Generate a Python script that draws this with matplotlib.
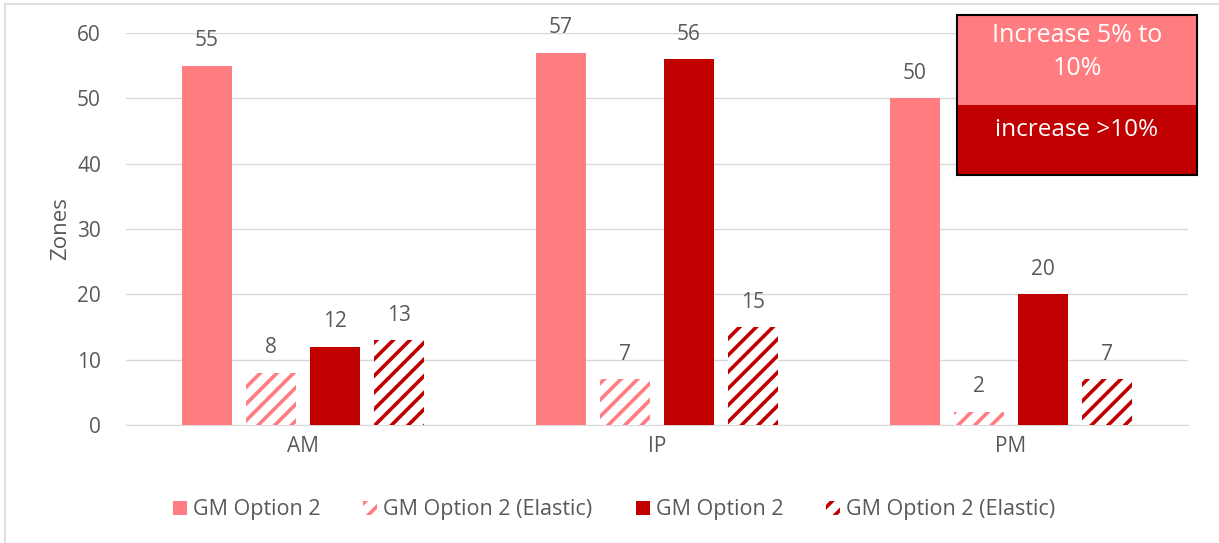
import matplotlib
matplotlib.use("Agg")
import matplotlib.pyplot as plt
from matplotlib.patches import Rectangle
from matplotlib.lines import Line2D
import numpy as np

periods = ["AM", "IP", "PM"]
series_names = ["GM Option 2", "GM Option 2 (Elastic)", "GM Option 2", "GM Option 2 (Elastic)"]
gm_5_10 = [55, 57, 50]
gm_5_10_elastic = [8, 7, 2]
gm_over_10 = [12, 56, 20]
gm_over_10_elastic = [13, 15, 7]
box_labels = ["Increase 5% to\n10%", "increase >10%"]

LIGHT = "#FF7C80"
DARK = "#C00000"
TEXT = "#595959"
GRID = "#D9D9D9"

plt.rcParams["font.family"] = ["Open Sans", "DejaVu Sans"]
plt.rcParams["hatch.linewidth"] = 2.6

W, H = 1219, 543
fig = plt.figure(figsize=(W / 100, H / 100), dpi=100)

def px(x0, y0, x1, y1):
    # left/bottom/width/height in figure fraction from pixel box (top-left origin)
    return [x0 / W, 1 - y1 / H, (x1 - x0) / W, (y1 - y0) / H]

ax = fig.add_axes(px(126, 33, 1188, 425))

series = [gm_5_10, gm_5_10_elastic, gm_over_10, gm_over_10_elastic]
colors = [LIGHT, LIGHT, DARK, DARK]
hatched = [False, True, False, True]
x = np.arange(len(periods))
step = 0.181
width = 0.141
offsets = (np.arange(4) - 1.5) * step

handles = []
for vals, col, hat, off, name in zip(series, colors, hatched, offsets, series_names):
    if hat:
        bars = ax.bar(x + off, vals, width, facecolor="white", edgecolor=col,
                      hatch="//", linewidth=0, zorder=3, label=name)
    else:
        bars = ax.bar(x + off, vals, width, color=col, linewidth=0, zorder=3, label=name)
    handles.append(bars)
    for b, v in zip(bars, vals):
        ax.annotate(f"{v}", (b.get_x() + b.get_width() / 2, v), xytext=(0, 18),
                    textcoords="offset points", ha="center", va="center",
                    fontsize=15, color=TEXT)

ax.set_xlim(-0.5, 2.5)
ax.set_ylim(0, 60)
ax.set_yticks(range(0, 61, 10))
ax.set_xticks(x)
ax.set_xticklabels(periods)
ax.tick_params(length=0, labelsize=15, labelcolor=TEXT)
ax.tick_params(axis="y", pad=18)
ax.tick_params(axis="x", pad=8)
ax.grid(axis="y", color=GRID, linewidth=1, zorder=0)
for s in ["top", "right", "left"]:
    ax.spines[s].set_visible(False)
ax.spines["bottom"].set_color(GRID)
ax.set_ylabel("Zones", fontsize=16, color=TEXT, labelpad=4)

leg = fig.legend(handles=handles, labels=series_names, loc="center",
                 bbox_to_anchor=(614 / W, 1 - 510 / H), ncol=4, frameon=False,
                 fontsize=15.5, labelcolor=TEXT, handlelength=0.65, handleheight=0.65,
                 handletextpad=0.28, columnspacing=2.0)

# legend key box in the upper right
fig.add_artist(Rectangle((957 / W, 1 - 105 / H), 240 / W, 90 / H, transform=fig.transFigure,
                         facecolor=LIGHT, edgecolor="none", zorder=5))
fig.add_artist(Rectangle((957 / W, 1 - 175 / H), 240 / W, 70 / H, transform=fig.transFigure,
                         facecolor=DARK, edgecolor="none", zorder=5))
fig.add_artist(Rectangle((957 / W, 1 - 175 / H), 240 / W, 160 / H, transform=fig.transFigure,
                         facecolor="none", edgecolor="black", linewidth=1.5, zorder=6))
fig.text(1077 / W, 1 - 52 / H, box_labels[0], ha="center", va="center", color="white",
         fontsize=18, linespacing=1.4, zorder=7)
fig.text(1077 / W, 1 - 130 / H, box_labels[1], ha="center", va="center", color="white",
         fontsize=17.5, zorder=7)

# outer chart border
fig.add_artist(Line2D([5 / W, 5 / W], [0, 1 - 4 / H], transform=fig.transFigure,
                      color=GRID, linewidth=1.2))
fig.add_artist(Line2D([5 / W, 1], [1 - 4 / H, 1 - 4 / H], transform=fig.transFigure,
                      color=GRID, linewidth=1.2))

fig.savefig("out.png", dpi=100)
